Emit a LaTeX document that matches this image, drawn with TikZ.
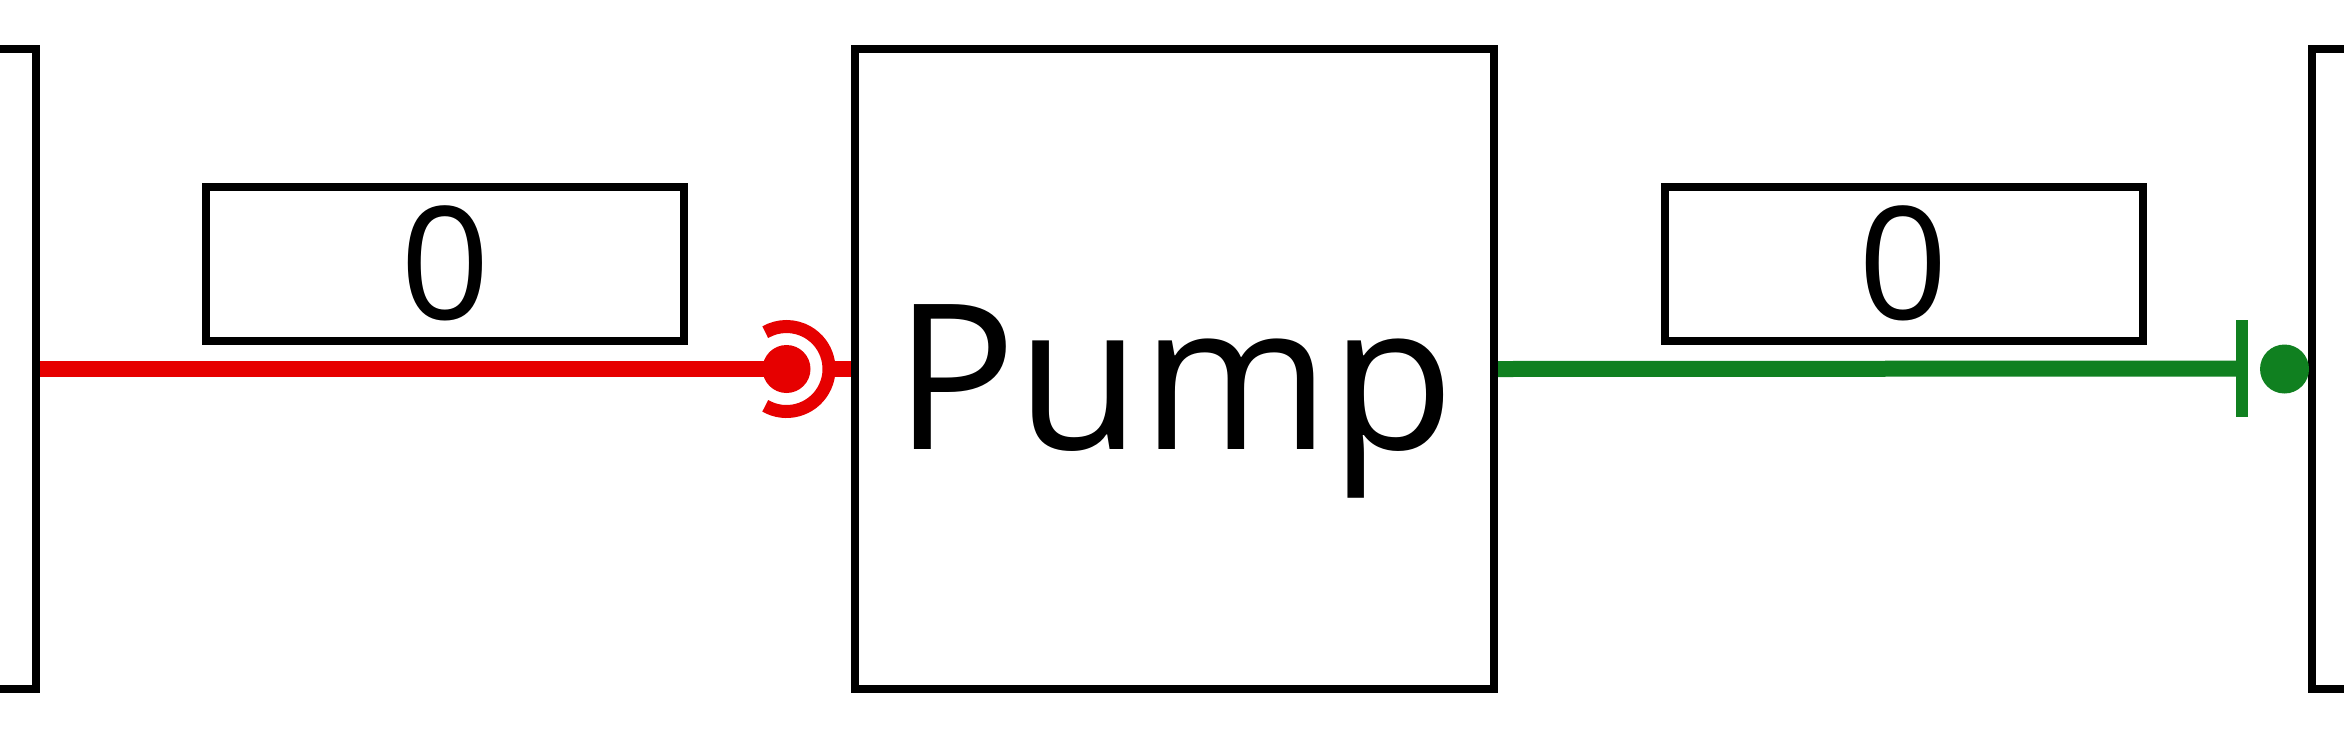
\documentclass[tikz,border=0pt]{standalone}
\usepackage{fontspec}
\setmainfont{Open Sans}
\definecolor{conred}{RGB}{230,0,0}
\definecolor{congreen}{RGB}{16,128,32}
\newcommand{\pumpfont}{\fontsize{203pt}{240pt}\selectfont}
\newcommand{\valfont}{\fontsize{157pt}{190pt}\selectfont}
\begin{document}
\begin{tikzpicture}[x=1pt,y=-1pt,
  blk/.style={draw=black,line width=8pt,minimum height=640pt,inner sep=0pt},
  valbox/.style={draw=black,line width=8pt,minimum width=478pt,minimum height=154pt,inner sep=0pt,font=\valfont},
  redwire/.style={draw=conred,line width=16pt},
  greenwire/.style={draw=congreen,line width=16pt},
  dotnode/.style={circle,fill=#1,inner sep=0pt,draw=none}
]
\useasboundingbox (0,0) rectangle (2344,748);
\clip (0,0) rectangle (2344,748);
% blocks
\node[blk,minimum width=672pt] (leftblk) at (-300,369) {};
\node[blk,minimum width=600pt] (rightblk) at (2612,369) {};
\node[blk,minimum width=639pt] (pump) at (1174.5,369) {};
\node[font=\pumpfont,anchor=base,inner sep=0pt] (pumptext) at (1174.5,449) {Pump};
% value boxes
\node[valbox] (lval) at (445.25,263.5) {0};
\node[valbox] (rval) at (1903.5,263.5) {0};
% red socket connector
\node[dotnode=conred,minimum size=48pt] (rdot) at (786.5,369) {};
\coordinate (sockend) at (829,369);
\draw[redwire] (leftblk.east) -- (rdot.center);
\draw[redwire] (sockend) -- (pump.west);
\draw[conred,line width=13pt] (rdot.center) ++(-120:42.5pt) arc[start angle=-120,end angle=120,radius=42.5pt];
% green plug connector
\node[fill=congreen,minimum width=12pt,minimum height=97pt,inner sep=0pt] (gbar) at (2242,368.5) {};
\node[dotnode=congreen,minimum size=49pt] (gdot) at (2284.5,369) {};
\draw[greenwire] (pump.east) -- (gbar.center);
\end{tikzpicture}
\end{document}
